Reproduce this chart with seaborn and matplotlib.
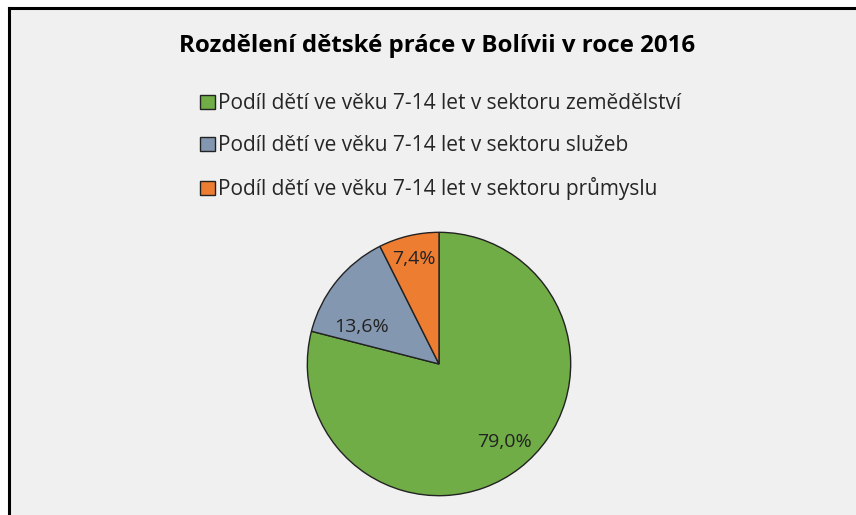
import matplotlib
matplotlib.use("Agg")
import matplotlib.pyplot as plt
from matplotlib.patches import Patch
import seaborn as sns

# data
sectors = ["Podíl dětí ve věku 7-14 let v sektoru zemědělství",
           "Podíl dětí ve věku 7-14 let v sektoru služeb",
           "Podíl dětí ve věku 7-14 let v sektoru průmyslu"]
shares = [79.0, 13.6, 7.4]
colors = ["#70AD47", "#8497B0", "#ED7D31"]

sns.set_theme(style="white")
plt.rcParams["font.family"] = ["Open Sans", "DejaVu Sans"]

W, H = 856, 515
fig = plt.figure(figsize=(W / 100, H / 100), dpi=100)
fig.patch.set_facecolor("white")

# chart area with border (background axes)
bg = fig.add_axes([9 / W, -0.05, 1.0, (H - 8) / H + 0.05], zorder=-1)
bg.set_facecolor("#F0F0F0")
bg.set_xticks([])
bg.set_yticks([])
for s in bg.spines.values():
    s.set_color("black")
    s.set_linewidth(2.2)

fig.text(437 / W, 1 - 46 / H, "Rozdělení dětské práce v Bolívii v roce 2016",
         ha="center", va="center", fontsize=17.3, fontweight="bold", color="black")

# pie
cx, cy, r = 439, 364, 133
ax = fig.add_axes([(cx - r) / W, (H - cy - r) / H, 2 * r / W, 2 * r / H])
wedges, texts, autotexts = ax.pie(
    shares, colors=colors, startangle=90, counterclock=False,
    autopct=lambda p: f"{p:.1f}%".replace(".", ","), pctdistance=0.77,
    wedgeprops=dict(edgecolor="#222222", linewidth=1.0),
    textprops=dict(fontsize=14, color="#222222"))
# label placement like the original (Excel "best fit")
label_pos = [(0.50, -0.59), (-0.59, 0.28), (-0.19, 0.80)]
for t, p in zip(autotexts, label_pos):
    t.set_position(p)
ax.set_xlim(-1.01, 1.01)
ax.set_ylim(-1.01, 1.01)
ax.set_aspect("equal")
ax.axis("off")

# legend
handles = [Patch(facecolor=c, edgecolor="#222222", linewidth=1.0) for c in colors]
fig.legend(handles, sectors, loc="upper left", bbox_to_anchor=(190 / W, 1 - 83 / H),
           frameon=False, fontsize=15, handlelength=0.7, handleheight=0.7,
           handletextpad=0.15, labelspacing=1.0, borderpad=0)

fig.savefig("out.png", dpi=100, facecolor=fig.get_facecolor())
